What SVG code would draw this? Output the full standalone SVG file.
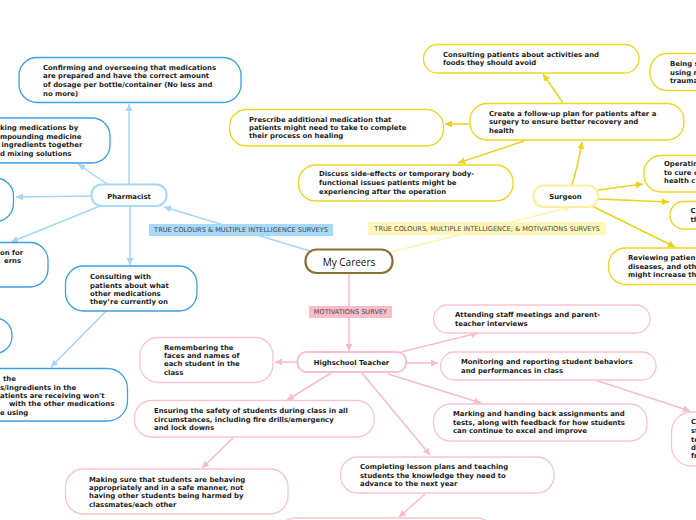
<svg xmlns="http://www.w3.org/2000/svg" width="696" height="520" viewBox="0 0 696 520">
<defs>
<style>
.t{font-family:"DejaVu Sans",Verdana,sans-serif;font-weight:bold;font-size:6.9px;fill:#1c1c1c}
.lbl{font-family:"DejaVu Sans",Verdana,sans-serif;font-size:6.6px;fill:#4a4a4a}
.nb{fill:#fff;stroke:#3d9fe6;stroke-width:1.3}
.ny{fill:#fff;stroke:#efd61c;stroke-width:1.3}
.np{fill:#fff;stroke:#fbc3ce;stroke-width:1.3}
.cb{stroke:#a5d6f7;stroke-width:1.5;fill:none;marker-end:url(#ab)}
.cy{stroke:#ecd21c;stroke-width:1.5;fill:none;marker-end:url(#ay)}
.cp{stroke:#fbbcc8;stroke-width:1.5;fill:none;marker-end:url(#ap)}
</style>
<marker id="ab" viewBox="0 0 10 10" refX="10" refY="5" markerWidth="7" markerHeight="7" markerUnits="userSpaceOnUse" orient="auto"><path d="M0,0 L10,5 L0,10 z" fill="#a5d6f7"/></marker>
<marker id="ay" viewBox="0 0 10 10" refX="10" refY="5" markerWidth="7" markerHeight="7" markerUnits="userSpaceOnUse" orient="auto"><path d="M0,0 L10,5 L0,10 z" fill="#ecd21c"/></marker>
<marker id="ap" viewBox="0 0 10 10" refX="10" refY="5" markerWidth="7" markerHeight="7" markerUnits="userSpaceOnUse" orient="auto"><path d="M0,0 L10,5 L0,10 z" fill="#fbbcc8"/></marker>
<marker id="al" viewBox="0 0 10 10" refX="10" refY="5" markerWidth="7" markerHeight="7" markerUnits="userSpaceOnUse" orient="auto"><path d="M0,0 L10,5 L0,10 z" fill="#fff3ad"/></marker>
</defs>
<rect width="696" height="520" fill="#fff"/>

<g id="connectors">
<!-- blue -->
<line class="cb" x1="310" y1="251" x2="164" y2="207"/>
<line class="cb" x1="129" y1="184" x2="129" y2="104"/>
<line class="cb" x1="110" y1="186" x2="78" y2="164"/>
<line class="cb" x1="91" y1="196" x2="16" y2="197"/>
<line class="cb" x1="100" y1="206" x2="11" y2="242"/>
<line class="cb" x1="130" y1="206" x2="130" y2="265"/>
<line class="cb" x1="106" y1="311" x2="51" y2="367"/>
<!-- yellow -->
<line x1="391" y1="252" x2="571" y2="207" stroke="#fff3ad" stroke-width="1.5" marker-end="url(#al)"/>
<path class="cy" d="M572,185 Q578,165 582,142"/>
<line class="cy" x1="563" y1="103" x2="543" y2="74"/>
<line class="cy" x1="470" y1="124" x2="445" y2="124"/>
<line class="cy" x1="524" y1="141" x2="458" y2="163"/>
<line class="cy" x1="598" y1="190" x2="643" y2="184"/>
<line class="cy" x1="598" y1="199" x2="669" y2="202"/>
<line class="cy" x1="590" y1="205" x2="675" y2="247"/>
<!-- pink -->
<line class="cp" x1="349" y1="273" x2="349" y2="351"/>
<line class="cp" x1="297" y1="362" x2="275" y2="362"/>
<line class="cp" x1="331" y1="373" x2="287" y2="400"/>
<line class="cp" x1="233" y1="438" x2="202" y2="468"/>
<line class="cp" x1="362" y1="373" x2="430" y2="455"/>
<line class="cp" x1="425" y1="494" x2="399" y2="517"/>
<line class="cp" x1="401" y1="352" x2="478" y2="333"/>
<line class="cp" x1="407" y1="363" x2="438" y2="363"/>
<line class="cp" x1="388" y1="374" x2="481" y2="403"/>
<line class="cp" x1="595" y1="380" x2="690" y2="411"/>
<!-- labels -->
<rect x="149" y="224" width="184" height="12" fill="#a6d8f7"/>
<text class="lbl" x="241" y="232.4" text-anchor="middle">TRUE COLOURS &amp; MULTIPLE INTELLIGENCE SURVEYS</text>
<rect x="368" y="222" width="238" height="13" fill="#fff6b8"/>
<text class="lbl" x="487" y="230.9" text-anchor="middle">TRUE COLOURS, MULTIPLE INTELLIGENCE, &amp; MOTIVATIONS SURVEYS</text>
<rect x="309" y="306" width="83" height="12" fill="#f9bcc9"/>
<text class="lbl" x="350.5" y="314.4" text-anchor="middle">MOTIVATIONS SURVEY</text>
</g>

<g id="central">
<rect x="305.5" y="249.5" width="87" height="23.5" rx="11" fill="#fff" stroke="#8c6d34" stroke-width="2.2"/>
<text x="349" y="265.5" text-anchor="middle" font-family="'Open Sans','Liberation Sans',sans-serif" font-size="10" fill="#111">My Careers</text>
</g>

<!-- Blue branch -->
<g id="pharmacist">
<rect x="91.5" y="184.5" width="75" height="21.5" rx="10" fill="#fff" stroke="#a8d8f8" stroke-width="2"/>
<text class="t" x="129" y="198.5" text-anchor="middle">Pharmacist</text>
</g>
<g id="ph-confirming">
<rect class="nb" x="19" y="57.5" width="222" height="45" rx="18"/>
<text class="t"><tspan x="43" y="69.5">Confirming and overseeing that medications</tspan><tspan x="43" y="78.2">are prepared and have the correct amount</tspan><tspan x="43" y="86.9">of dosage per bottle/container (No less and</tspan><tspan x="43" y="95.6">no more)</tspan></text>
</g>
<g id="ph-making">
<rect class="nb" x="-110" y="118" width="220" height="45" rx="18"/>
<text class="t"><tspan x="0" y="130">king medications by</tspan><tspan x="0" y="138.6">mpounding medicine</tspan><tspan x="1.5" y="147.2">ingredients together</tspan><tspan x="0" y="155.9">d mixing solutions</tspan></text>
</g>
<g id="ph-left1">
<rect class="nb" x="-100" y="178" width="113.5" height="43.5" rx="18"/>
</g>
<g id="ph-left2">
<rect class="nb" x="-100" y="242.5" width="148" height="44.5" rx="18"/>
<text class="t"><tspan x="0" y="255">on for</tspan><tspan x="4" y="263">erns</tspan></text>
</g>
<g id="ph-left3">
<rect class="nb" x="-100" y="318" width="112" height="35.5" rx="17"/>
</g>
<g id="ph-consulting">
<rect class="nb" x="65.5" y="266" width="131.5" height="45" rx="18"/>
<text class="t"><tspan x="90" y="279">Consulting with</tspan><tspan x="90" y="287.5">patients about what</tspan><tspan x="90" y="296">other medications</tspan><tspan x="90" y="304.3">they’re currently on</tspan></text>
</g>
<g id="ph-ingredients">
<rect class="nb" x="-100" y="368.5" width="227.5" height="52.5" rx="20"/>
<text class="t"><tspan x="3" y="381.3">the</tspan><tspan x="0" y="389.7">s/ingredients in the</tspan><tspan x="0" y="398">atients are receiving won't</tspan><tspan x="9" y="406.4">with the other medications</tspan><tspan x="0" y="414.9">e using</tspan></text>
</g>

<!-- Yellow branch -->
<g id="surgeon">
<rect x="533.5" y="185.5" width="64.5" height="21.5" rx="10" fill="#fff" stroke="#fcef9e" stroke-width="2"/>
<text class="t" x="565.5" y="199.3" text-anchor="middle">Surgeon</text>
</g>
<g id="sg-followup">
<rect class="ny" x="470" y="103.5" width="214" height="36.5" rx="17"/>
<text class="t"><tspan x="489" y="116">Create a follow-up plan for patients after a</tspan><tspan x="489" y="124.4">surgery to ensure better recovery and</tspan><tspan x="489" y="132.9">health</tspan></text>
</g>
<g id="sg-consulting">
<rect class="ny" x="423.5" y="44.5" width="215.5" height="28.5" rx="14"/>
<text class="t"><tspan x="443" y="56.5">Consulting patients about activities and</tspan><tspan x="443" y="65.3">foods they should avoid</tspan></text>
</g>
<g id="sg-prescribe">
<rect class="ny" x="229.5" y="109.5" width="214" height="36.5" rx="17"/>
<text class="t"><tspan x="249" y="121.5">Prescribe additional medication that</tspan><tspan x="249" y="129.8">patients might need to take to complete</tspan><tspan x="249" y="138.3">their process on healing</tspan></text>
</g>
<g id="sg-discuss">
<rect class="ny" x="298.5" y="165" width="214.5" height="36" rx="17"/>
<text class="t"><tspan x="319" y="176.3">Discuss side-effects or temporary body-</tspan><tspan x="319" y="185.3">functional issues patients might be</tspan><tspan x="319" y="193.8">experiencing after the operation</tspan></text>
</g>
<g id="sg-being">
<rect class="ny" x="650" y="53.5" width="120" height="37" rx="17"/>
<text class="t"><tspan x="670" y="66.3">Being s</tspan><tspan x="670" y="74.8">using r</tspan><tspan x="670" y="83">trauma</tspan></text>
</g>
<g id="sg-operating">
<rect class="ny" x="644" y="155.5" width="120" height="36.5" rx="17"/>
<text class="t"><tspan x="664" y="166.3">Operatin</tspan><tspan x="664" y="174.8">to cure c</tspan><tspan x="664" y="183">health c</tspan></text>
</g>
<g id="sg-c">
<rect class="ny" x="670" y="201.5" width="100" height="27.5" rx="13.5"/>
<text class="t"><tspan x="690.5" y="213">C</tspan><tspan x="690.5" y="222.2">th</tspan></text>
</g>
<g id="sg-reviewing">
<rect class="ny" x="608.5" y="248" width="150" height="36.5" rx="17"/>
<text class="t"><tspan x="628" y="260">Reviewing patien</tspan><tspan x="628" y="268.8">diseases, and oth</tspan><tspan x="628" y="277.2">might increase th</tspan></text>
</g>

<!-- Pink branch -->
<g id="teacher">
<rect x="297.5" y="352" width="108.5" height="20" rx="9" fill="#fff" stroke="#f9c0cb" stroke-width="2"/>
<text class="t" x="351.5" y="365" text-anchor="middle">Highschool Teacher</text>
</g>
<g id="tc-remembering">
<rect class="np" x="140" y="337.5" width="133" height="45" rx="18"/>
<text class="t"><tspan x="164" y="349.5">Remembering the</tspan><tspan x="164" y="357.9">faces and names of</tspan><tspan x="164" y="366.4">each student in the</tspan><tspan x="164" y="374.6">class</tspan></text>
</g>
<g id="tc-ensuring">
<rect class="np" x="134.5" y="400.5" width="239.5" height="36.5" rx="17"/>
<text class="t"><tspan x="154" y="413">Ensuring the safety of students during class in all</tspan><tspan x="154" y="421.5">circumstances, including fire drills/emergency</tspan><tspan x="154" y="429.9">and lock downs</tspan></text>
</g>
<g id="tc-making">
<rect class="np" x="65.5" y="469" width="222.5" height="45" rx="18"/>
<text class="t"><tspan x="89" y="481.5">Making sure that students are behaving</tspan><tspan x="89" y="489.9">appropriately and in a safe manner, not</tspan><tspan x="89" y="498.2">having other students being harmed by</tspan><tspan x="89" y="506.5">classmates/each other</tspan></text>
</g>
<g id="tc-completing">
<rect class="np" x="340.5" y="457" width="213.5" height="36" rx="17"/>
<text class="t"><tspan x="360" y="468.9">Completing lesson plans and teaching</tspan><tspan x="360" y="477.5">students the knowledge they need to</tspan><tspan x="360" y="485.5">advance to the next year</tspan></text>
</g>
<g id="tc-bottom">
<rect class="np" x="278" y="518" width="216" height="36" rx="17"/>
</g>
<g id="tc-attending">
<rect class="np" x="433.5" y="305" width="216.5" height="28" rx="14"/>
<text class="t"><tspan x="455" y="317.2">Attending staff meetings and parent-</tspan><tspan x="455" y="325.5">teacher interviews</tspan></text>
</g>
<g id="tc-monitoring">
<rect class="np" x="440.5" y="352" width="215.5" height="28" rx="14"/>
<text class="t"><tspan x="461" y="363.9">Monitoring and reporting student behaviors</tspan><tspan x="461" y="372.9">and performances in class</tspan></text>
</g>
<g id="tc-marking">
<rect class="np" x="433.5" y="404" width="213.5" height="37" rx="17"/>
<text class="t"><tspan x="453" y="416.2">Marking and handing back assignments and</tspan><tspan x="453" y="424.9">tests, along with feedback for how students</tspan><tspan x="453" y="432.9">can continue to excel and improve</tspan></text>
</g>
<g id="tc-c">
<rect class="np" x="671.5" y="412" width="120" height="54" rx="20"/>
<text class="t"><tspan x="691" y="424.2">C</tspan><tspan x="691" y="432.9">st</tspan><tspan x="691" y="441.5">te</tspan><tspan x="691" y="449.5">d</tspan><tspan x="691" y="457.9">fr</tspan></text>
</g>
</svg>
